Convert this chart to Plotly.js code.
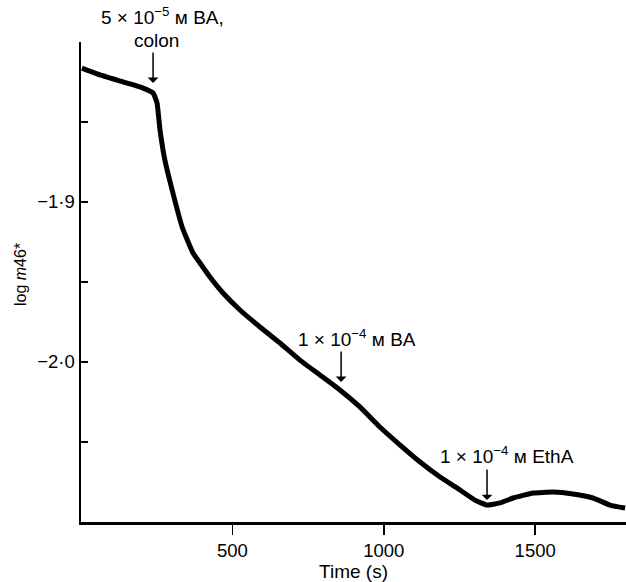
<!DOCTYPE html>
<html>
<head>
<meta charset="utf-8">
<script src="https://cdn.plot.ly/plotly-3.0.1.min.js"></script>
<style>html,body{margin:0;padding:0;background:#fff;}#chart{width:626px;height:582px;}</style>
</head>
<body>
<div id="chart"></div>
<script>
// Time (s)
const timeS = [3, 63, 119, 195, 238, 251, 261, 277, 301, 334, 370, 393, 426, 469, 525, 591, 657, 723, 789, 855, 921, 987, 1054, 1120, 1186, 1252, 1301, 1341, 1384, 1427, 1493, 1559, 1625, 1691, 1747, 1797];
// log m46*
const logM46 = [-1.8163, -1.8206, -1.8238, -1.8281, -1.8319, -1.8381, -1.855, -1.8738, -1.8925, -1.9156, -1.9319, -1.9381, -1.9469, -1.9569, -1.9675, -1.9781, -1.9881, -1.9988, -2.0081, -2.0175, -2.0281, -2.0406, -2.0519, -2.0625, -2.0719, -2.08, -2.0863, -2.0894, -2.0881, -2.085, -2.0819, -2.0813, -2.0825, -2.085, -2.0894, -2.0913];

const xTickVals = [500, 1000, 1500];
const xTickText = ['500', '1000', '1500'];
const yTickVals = [-1.9, -2.0];
const yTickText = ['−1·9', '−2·0'];

// event markers: time and value at arrow tip
const eventTimes = [238, 859, 1341];
const eventValues = [-1.8256, -2.0125, -2.0863];
const eventLabels = ['5 × 10<sup>−5</sup> м BA,', '1 × 10<sup>−4</sup> м BA', '1 × 10<sup>−4</sup> м EthA'];

const font = 'Liberation Sans, Arial, Helvetica, sans-serif';
const annFont = {family: font, size: 19, color: '#000'};

const trace = {
  x: timeS, y: logM46, type: 'scatter', mode: 'lines',
  line: {color: '#000', width: 5, shape: 'spline', smoothing: 0.4},
  hoverinfo: 'skip'
};

const plotW = 626 - 81, plotH = 582 - 42 - 60;
const px = v => (v - 81) / plotW;      // pixel x -> paper
const py = v => (522 - v) / plotH;     // pixel y -> paper

const annotations = [];
eventTimes.forEach((t, i) => {
  annotations.push({x: t, y: eventValues[i], xref: 'x', yref: 'y', text: '', showarrow: true,
    arrowhead: 1, arrowsize: 1.2, arrowwidth: 1.5, arrowcolor: '#000', ax: 0, ay: -32, standoff: 0});
});
annotations.push({x: px(162), y: py(16), xref: 'paper', yref: 'paper', text: eventLabels[0], showarrow: false, font: annFont, xanchor: 'center', yanchor: 'middle'});
annotations.push({x: px(156), y: py(40), xref: 'paper', yref: 'paper', text: 'colon', showarrow: false, font: annFont, xanchor: 'center', yanchor: 'middle'});
annotations.push({x: eventTimes[1] + 52, y: -1.985, xref: 'x', yref: 'y', text: eventLabels[1], showarrow: false, font: annFont, xanchor: 'center', yanchor: 'middle'});
annotations.push({x: eventTimes[2] + 66, y: -2.058, xref: 'x', yref: 'y', text: eventLabels[2], showarrow: false, font: annFont, xanchor: 'center', yanchor: 'middle'});
annotations.push({x: px(20), y: py(275), xref: 'paper', yref: 'paper', text: 'log <i>m</i>46*', showarrow: false, textangle: -90,
  font: {family: font, size: 16, color: '#000'}, xanchor: 'center', yanchor: 'middle'});

const layout = {
  width: 626, height: 582,
  margin: {l: 81, r: 0, t: 42, b: 60},
  paper_bgcolor: '#fff', plot_bgcolor: '#fff',
  showlegend: false,
  xaxis: {
    range: [0, 1800], showgrid: false, zeroline: false,
    showline: true, linecolor: '#000', linewidth: 2.5,
    ticks: 'outside', ticklen: 10, tickwidth: 1.5, tickcolor: '#000',
    tickvals: xTickVals, ticktext: xTickText,
    tickfont: {family: font, size: 18.5, color: '#000'},
    title: {text: 'Time (s)', font: {family: font, size: 19, color: '#000'}, standoff: 4}
  },
  yaxis: {
    range: [-2.1, -1.8], showgrid: false, zeroline: false,
    showline: true, linecolor: '#000', linewidth: 2.5,
    ticks: 'inside', ticklen: 7, tickwidth: 1.5, tickcolor: '#000',
    tickvals: yTickVals, ticktext: yTickText,
    tickfont: {family: font, size: 18.5, color: '#000'},
    minor: {tickmode: 'linear', tick0: -1.85, dtick: 0.05, ticks: 'inside', ticklen: 7, tickwidth: 1.5, tickcolor: '#000', showgrid: false}
  },
  annotations: annotations
};

Plotly.newPlot('chart', [trace], layout, {staticPlot: true, displayModeBar: false});
</script>
</body>
</html>
